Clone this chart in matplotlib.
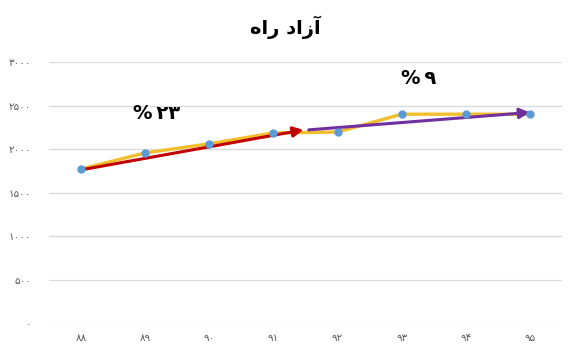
import matplotlib
matplotlib.use("Agg")
import matplotlib.pyplot as plt

plt.rcParams['font.family'] = ['DejaVu Sans']

# Data
years = ['۸۸', '۸۹', '۹۰', '۹۱', '۹۲', '۹۳', '۹۴', '۹۵']
values = [1770, 1955, 2060, 2185, 2195, 2400, 2400, 2400]
y_ticks = [0, 500, 1000, 1500, 2000, 2500, 3000]
y_tick_labels = ['۰', '۵۰۰', '۱۰۰۰', '۱۵۰۰', '۲۰۰۰', '۲۵۰۰', '۳۰۰۰']
# trend arrows: (x_start, y_start, x_end, y_end) in category/value units
trend1 = (0.0, 1760, 3.47, 2220)
trend2 = (3.55, 2220, 7.0, 2420)
label1 = '%\u2009۲۳'
label2 = '%\u2009۹'
title = 'هار دازآ'  # visual order of "آزاد راه" (all letters isolated forms)

fig = plt.figure(figsize=(5.72, 3.56), dpi=100)
ax = fig.add_axes([49/572, 33/356, (562-49)/572, (323-62)/356])

x = list(range(len(years)))
ax.plot(x, values, color='#F2BE2C', lw=2.4, zorder=2)
ax.plot(x, values, 'o', color='#5B9BD5', ms=5, zorder=4)

ax.annotate('', xy=(trend1[2], trend1[3]), xytext=(trend1[0], trend1[1]),
            arrowprops=dict(arrowstyle='-|>,head_length=0.6,head_width=0.3',
                            color='#C00000', lw=2.2, shrinkA=0, shrinkB=0), zorder=3)
ax.annotate('', xy=(trend2[2], trend2[3]), xytext=(trend2[0], trend2[1]),
            arrowprops=dict(arrowstyle='-|>,head_length=0.6,head_width=0.3',
                            color='#7030A0', lw=2.2, shrinkA=0, shrinkB=0), zorder=3)

ax.text(1.17, 2410, label1, fontsize=14, fontweight='bold', ha='center', va='center')
ax.text(5.27, 2816, label2, fontsize=14, fontweight='bold', ha='center', va='center')

ax.set_xlim(-0.5, 7.5)
ax.set_ylim(0, 3000)
ax.set_xticks(x)
ax.set_xticklabels(years)
ax.set_yticks(y_ticks)
ax.set_yticklabels(y_tick_labels)
ax.tick_params(axis='both', length=0, labelsize=7.5, colors='#595959')
ax.tick_params(axis='y', pad=13)
ax.tick_params(axis='x', pad=7)
ax.grid(axis='y', color='#D9D9D9', lw=0.9)
ax.set_axisbelow(True)
for s in ax.spines.values():
    s.set_visible(False)

fig.text(285/572, 1 - 27/356, title, fontsize=14, fontweight='bold', ha='center', va='center')

fig.savefig('out.png', dpi=100)
